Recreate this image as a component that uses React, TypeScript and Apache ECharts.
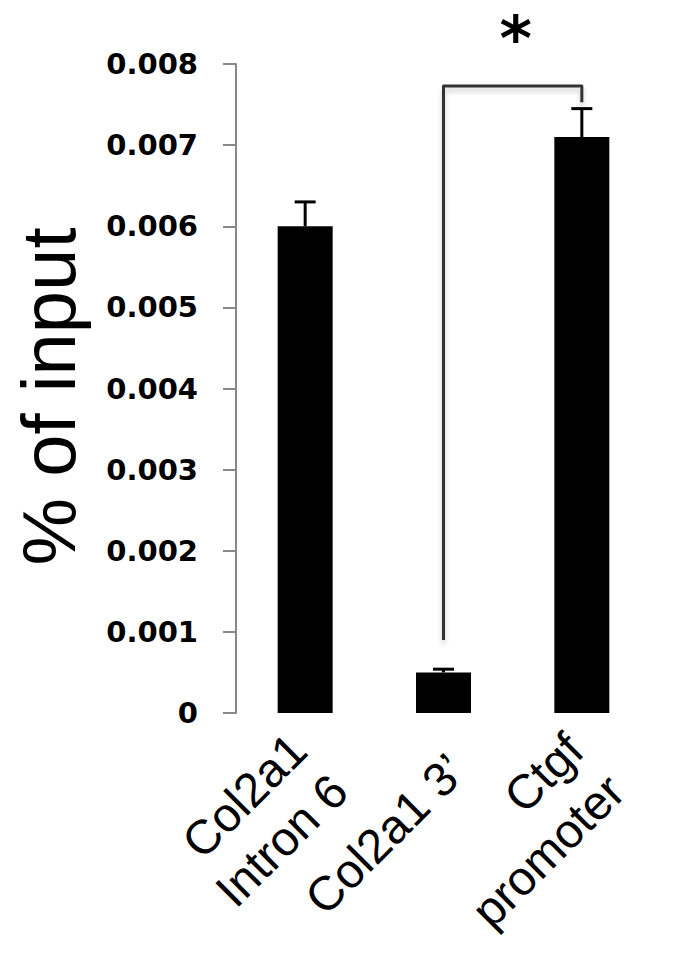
import React, { useEffect, useRef } from "react";
import * as echarts from "echarts";

const categories = ["Col2a1\nIntron 6", "Col2a1 3’", "Ctgf\npromoter"];
const values = [0.006, 0.0005, 0.0071];
const errorsUp = [0.0003, 0.00004, 0.00035];
const yTicks = { min: 0, max: 0.008, interval: 0.001 };
const yTitle = "% of input";
const bracketPair = [1, 2];
const bracketLevels = [0.0009, 0.00773, 0.00753]; // left leg bottom, top, right leg bottom
const sigLabel = "*";
const sigLevel = 0.00832;

export default function App() {
  const ref = useRef<HTMLDivElement>(null);
  useEffect(() => {
    if (!ref.current) return;
    const chart = echarts.init(ref.current, null, { renderer: "svg" });
    const errData = values.map((v, i) => [i, v, v + errorsUp[i]]);
    const option: any = {
      animation: false,
      backgroundColor: "#ffffff",
      grid: { left: 236, right: 24, top: 64, bottom: 255, containLabel: false, outerBoundsMode: "none" },
      xAxis: {
        type: "category",
        data: categories,
        boundaryGap: true,
        axisLine: {
          lineStyle: {
            color: "#000",
            width: 3,
            shadowColor: "rgba(0,0,0,0.25)",
            shadowBlur: 6,
            shadowOffsetY: 4,
          },
        },
        axisTick: { show: false },
        axisLabel: {
          interval: 0,
          rotate: 45,
          margin: 36,
          fontSize: 48,
          lineHeight: 58,
          fontFamily: "Liberation Sans",
          color: "#000",
          formatter: (v: string) =>
            "{gap| }\n" + v.split("\n").map((s) => `{t|${s}}`).join("\n"),
          rich: {
            gap: { fontSize: 10, lineHeight: 38 },
            t: { fontSize: 48, lineHeight: 58, fontFamily: "Liberation Sans", color: "#000" },
          },
        },
        splitLine: { show: false },
      },
      yAxis: {
        type: "value",
        min: yTicks.min,
        max: yTicks.max,
        interval: yTicks.interval,
        name: yTitle,
        nameLocation: "middle",
        nameRotate: 90,
        nameGap: 150,
        nameTextStyle: {
          fontSize: 76,
          fontFamily: "Liberation Sans",
          color: "#000",
          padding: [0, 16, 0, 0],
        },
        axisLine: { show: true, lineStyle: { color: "#888", width: 2 } },
        axisTick: { show: true, inside: false, length: 13, lineStyle: { color: "#888", width: 2 } },
        axisLabel: {
          margin: 38,
          fontSize: 29,
          fontWeight: "bold",
          fontFamily: "DejaVu Sans",
          color: "#000",
          formatter: (v: number) => (v === 0 ? "0" : v.toFixed(3)),
        },
        splitLine: { show: false },
      },
      series: [
        {
          type: "bar",
          data: values,
          barWidth: 55,
          itemStyle: { color: "#000" },
          z: 2,
        },
        {
          type: "custom",
          data: errData,
          z: 3,
          renderItem: (params: any, api: any) => {
            const i = api.value(0);
            const base = api.coord([i, api.value(1)]);
            const top = api.coord([i, api.value(2)]);
            const half = 10.5;
            return {
              type: "group",
              children: [
                {
                  type: "line",
                  shape: { x1: base[0], y1: base[1], x2: top[0], y2: top[1] },
                  style: { stroke: "#000", lineWidth: 3 },
                },
                {
                  type: "line",
                  shape: { x1: top[0] - half, y1: top[1], x2: top[0] + half, y2: top[1] },
                  style: { stroke: "#000", lineWidth: 3 },
                },
              ],
            };
          },
        },
        {
          type: "custom",
          data: [[bracketPair[0], bracketPair[1], bracketLevels[0], bracketLevels[1], bracketLevels[2], sigLevel]],
          z: 4,
          clip: false,
          renderItem: (params: any, api: any) => {
            const a = api.value(0);
            const b = api.value(1);
            const p1 = api.coord([a, api.value(2)]);
            const p2 = api.coord([a, api.value(3)]);
            const p3 = api.coord([b, api.value(3)]);
            const p4 = api.coord([b, api.value(4)]);
            const s = api.coord([a, api.value(5)]);
            return {
              type: "group",
              children: [
                {
                  type: "polyline",
                  shape: { points: [p1, p2, p3, p4] },
                  style: {
                    stroke: "#333",
                    lineWidth: 3,
                    fill: "none",
                    lineJoin: "round",
                    shadowColor: "rgba(0,0,0,0.2)",
                    shadowBlur: 5,
                    shadowOffsetY: 4,
                  },
                },
                {
                  type: "text",
                  x: (p2[0] + p3[0]) / 2 + 3,
                  y: s[1],
                  style: {
                    text: sigLabel,
                    fontSize: 62,
                    fontWeight: "bold",
                    fontFamily: "DejaVu Sans",
                    fill: "#000",
                    align: "center",
                    verticalAlign: "middle",
                  },
                },
              ],
            };
          },
        },
      ],
    };
    chart.setOption(option);
    return () => chart.dispose();
  }, []);
  return (
    <div
      ref={ref}
      style={{ position: "absolute", left: 0, top: 0, width: 675, height: 968, background: "#fff" }}
    />
  );
}
